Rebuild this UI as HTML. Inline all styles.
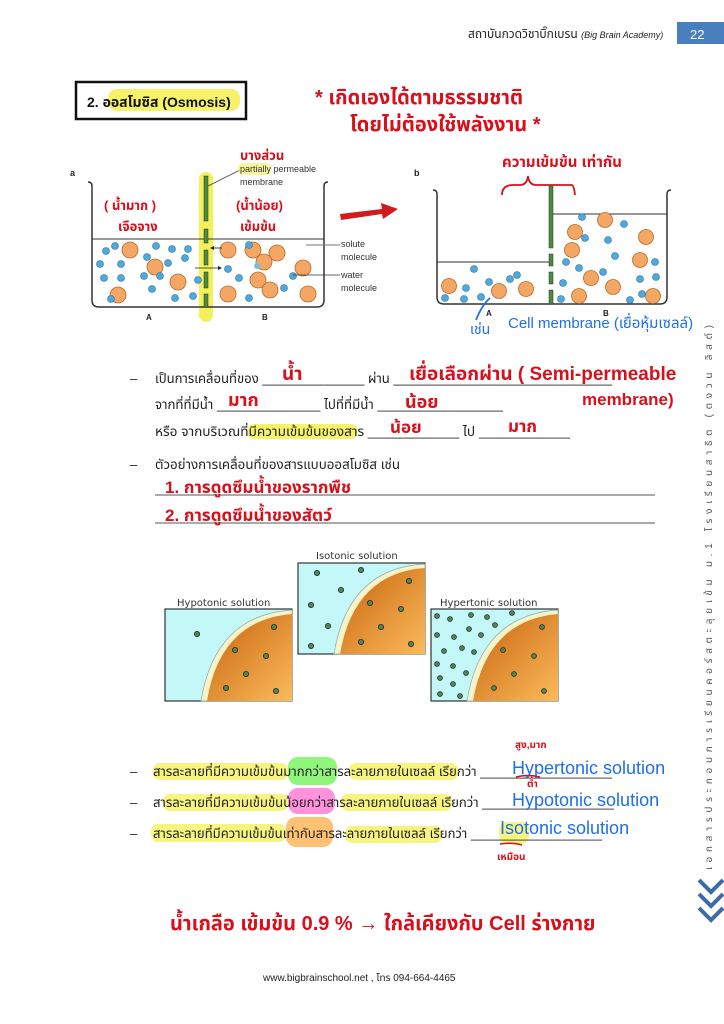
<!DOCTYPE html>
<html><head><meta charset="utf-8">
<style>
html,body{margin:0;padding:0;background:#fff;}
body{width:724px;height:1024px;position:relative;overflow:hidden;font-family:"Liberation Sans","DejaVu Sans",sans-serif;}
svg{position:absolute;left:0;top:0;}
.th{font-family:"Liberation Sans","Noto Sans Thai","Loma","Garuda","DejaVu Sans",sans-serif;}
.red{fill:#d8101c;font-family:"Liberation Sans","Noto Sans Thai","DejaVu Sans",sans-serif;font-weight:bold;}
.blue{fill:#1f6fe8;font-family:"Liberation Sans","Noto Sans Thai","DejaVu Sans",sans-serif;}
</style></head><body>
<svg width="724" height="1024" viewBox="0 0 724 1024" xmlns="http://www.w3.org/2000/svg">
<!-- header -->
<text x="468" y="38" font-size="12" class="th" fill="#222">สถาบันกวดวิชาบิ๊กเบรน <tspan font-style="italic" font-size="9">(Big Brain Academy)</tspan></text>
<rect x="677" y="22" width="47" height="22" fill="#4a7fbf"/>
<text x="690" y="39" font-size="13" fill="#fff">22</text>

<!-- title box -->
<rect x="76" y="82" width="170" height="37" fill="#fff" stroke="#111" stroke-width="2.5"/>
<rect x="108" y="89" width="132" height="22" rx="9" fill="#f6f36a"/>
<text x="87" y="107" font-size="14" font-weight="bold" class="th" fill="#111">2.  ออสโมซิส (Osmosis)</text>
<text x="315" y="104" font-size="20" class="red">* เกิดเองได้ตามธรรมชาติ</text>
<text x="350" y="131" font-size="20" class="red">โดยไม่ต้องใช้พลังงาน *</text>

<!-- beaker a -->
<text x="70" y="176" font-size="9" font-weight="bold" fill="#222">a</text>
<rect x="199" y="172" width="14" height="150" rx="7" fill="#f3f05a"/>
<path d="M88 182 Q92 182 92 186 L92 300 Q92 307 99 307 L317 307 Q324 307 324 300 L324 186 Q324 182 328 182" fill="none" stroke="#333" stroke-width="1.5"/>
<line x1="92" y1="239" x2="324" y2="239" stroke="#333" stroke-width="1"/>
<g fill="#4d8a3a" stroke="#234" stroke-width="0.5">
<rect x="204" y="176" width="4" height="45"/><rect x="204" y="229" width="4" height="14"/><rect x="204" y="250" width="4" height="15"/><rect x="204" y="272" width="4" height="16"/><rect x="204" y="294" width="4" height="13"/>
</g>
<line x1="208" y1="186" x2="240" y2="170" stroke="#444" stroke-width="0.8"/>
<rect x="238" y="163" width="33" height="12" rx="5" fill="#f3f05a" opacity="0.6"/>
<text x="240" y="172" font-size="9" fill="#333">partially permeable</text>
<text x="240" y="185" font-size="9" fill="#333">membrane</text>
<text x="240" y="160" font-size="13" class="red">บางส่วน</text>
<text x="104" y="210" font-size="13" class="red">( น้ำมาก )</text>
<text x="118" y="231" font-size="13" class="red">เจือจาง</text>
<text x="236" y="210" font-size="13" class="red">(น้ำน้อย)</text>
<text x="240" y="231" font-size="13" class="red">เข้มข้น</text>
<g fill="#f4a765" stroke="#b86a2a" stroke-width="0.8">
<circle cx="130" cy="250" r="8"/><circle cx="155" cy="267" r="8"/><circle cx="178" cy="282" r="8"/><circle cx="118" cy="295" r="8"/>
<circle cx="228" cy="250" r="8"/><circle cx="253" cy="250" r="8"/><circle cx="277" cy="253" r="8"/><circle cx="264" cy="262" r="8"/><circle cx="303" cy="268" r="8"/><circle cx="258" cy="280" r="8"/><circle cx="270" cy="290" r="8"/><circle cx="228" cy="294" r="8"/><circle cx="308" cy="294" r="8"/>
</g>
<g fill="#4ea9dc" stroke="#2a6d9a" stroke-width="0.6">
<circle cx="106" cy="251" r="3.5"/><circle cx="115" cy="246" r="3.5"/><circle cx="100" cy="264" r="3.5"/><circle cx="121" cy="264" r="3.5"/><circle cx="104" cy="278" r="3.5"/><circle cx="121" cy="278" r="3.5"/><circle cx="111" cy="299" r="3.5"/>
<circle cx="156" cy="246" r="3.5"/><circle cx="172" cy="249" r="3.5"/><circle cx="147" cy="257" r="3.5"/><circle cx="188" cy="249" r="3.5"/><circle cx="185" cy="258" r="3.5"/><circle cx="168" cy="263" r="3.5"/><circle cx="144" cy="276" r="3.5"/><circle cx="160" cy="276" r="3.5"/><circle cx="152" cy="289" r="3.5"/><circle cx="175" cy="298" r="3.5"/><circle cx="193" cy="296" r="3.5"/><circle cx="198" cy="280" r="3.5"/>
<circle cx="228" cy="269" r="3.5"/><circle cx="239" cy="278" r="3.5"/><circle cx="249" cy="245" r="3.5"/><circle cx="249" cy="298" r="3.5"/><circle cx="284" cy="288" r="3.5"/><circle cx="293" cy="276" r="3.5"/><circle cx="257" cy="266" r="3" fill="#6cc0ea" stroke="none"/>
</g>
<line x1="222" y1="248" x2="212" y2="248" stroke="#222" stroke-width="0.8"/><path d="M210 248 l4 -2 v4z" fill="#222"/>
<line x1="195" y1="268" x2="219" y2="268" stroke="#222" stroke-width="0.8"/><path d="M222 268 l-4 -2 v4z" fill="#222"/>
<line x1="306" y1="245" x2="340" y2="245" stroke="#777"/>
<line x1="293" y1="275" x2="340" y2="275" stroke="#333" stroke-width="0.8"/>
<text x="341" y="247" font-size="9" fill="#333">solute</text>
<text x="341" y="260" font-size="9" fill="#333">molecule</text>
<text x="341" y="278" font-size="9" fill="#333">water</text>
<text x="341" y="291" font-size="9" fill="#333">molecule</text>
<text x="146" y="320" font-size="8" font-weight="bold" fill="#222">A</text>
<text x="262" y="320" font-size="8" font-weight="bold" fill="#222">B</text>

<!-- arrow -->
<path d="M340 214 L382 209 L381 203 L398 209 L383 219 L382 214 L341 220Z" fill="#d01c1c"/>

<!-- beaker b -->
<text x="414" y="176" font-size="9" font-weight="bold" fill="#222">b</text>
<path d="M433 190 Q437 190 437 194 L437 297 Q437 304 444 304 L660 304 Q667 304 667 297 L667 194 Q667 190 671 190" fill="none" stroke="#333" stroke-width="1.5"/>
<line x1="437" y1="262" x2="551" y2="262" stroke="#333"/>
<line x1="553" y1="214" x2="667" y2="214" stroke="#333"/>
<g fill="#4d8a3a" stroke="#234" stroke-width="0.5">
<rect x="549" y="186" width="4" height="62"/><rect x="549" y="254" width="4" height="12"/><rect x="549" y="272" width="4" height="12"/><rect x="549" y="290" width="4" height="14"/>
</g>
<path d="M502 195 Q502 185 513 185 L520 185 Q527 185 528 176 Q529 185 536 185 L572 185 Q574 186 575 195" fill="none" stroke="#d8101c" stroke-width="1.8"/>
<text x="502" y="167" font-size="15" class="red">ความเข้มข้น เท่ากัน</text>
<g fill="#f4a765" stroke="#b86a2a" stroke-width="0.8">
<circle cx="449" cy="286" r="7.5"/><circle cx="499" cy="291" r="7.5"/><circle cx="526" cy="289" r="7.5"/>
<circle cx="575" cy="232" r="7.5"/><circle cx="605" cy="220" r="7.5"/><circle cx="646" cy="237" r="7.5"/><circle cx="572" cy="250" r="7.5"/><circle cx="640" cy="260" r="7.5"/><circle cx="591" cy="278" r="7.5"/><circle cx="613" cy="287" r="7.5"/><circle cx="579" cy="296" r="7.5"/><circle cx="653" cy="296" r="7.5"/>
</g>
<g fill="#4ea9dc" stroke="#2a6d9a" stroke-width="0.6">
<circle cx="474" cy="269" r="3.5"/><circle cx="466" cy="288" r="3.5"/><circle cx="445" cy="298" r="3.5"/><circle cx="464" cy="299" r="3.5"/><circle cx="481" cy="297" r="3.5"/><circle cx="489" cy="282" r="3.5"/><circle cx="510" cy="279" r="3.5"/><circle cx="517" cy="275" r="3.5"/>
<circle cx="582" cy="217" r="3.5"/><circle cx="624" cy="224" r="3.5"/><circle cx="585" cy="238" r="3.5"/><circle cx="608" cy="240" r="3.5"/><circle cx="566" cy="262" r="3.5"/><circle cx="615" cy="256" r="3.5"/><circle cx="655" cy="262" r="3.5"/><circle cx="579" cy="268" r="3.5"/><circle cx="603" cy="272" r="3.5"/><circle cx="563" cy="283" r="3.5"/><circle cx="640" cy="279" r="3.5"/><circle cx="656" cy="277" r="3.5"/><circle cx="642" cy="294" r="3.5"/><circle cx="561" cy="299" r="3.5"/><circle cx="630" cy="300" r="3.5"/>
</g>
<text x="486" y="316" font-size="8" font-weight="bold" fill="#222">A</text>
<text x="603" y="316" font-size="8" font-weight="bold" fill="#222">B</text>
<text x="470" y="334" font-size="14" class="blue">เช่น</text>
<text x="508" y="328" font-size="15" class="blue">Cell membrane (เยื่อหุ้มเซลล์)</text>
<path d="M476 320 Q482 305 490 298" fill="none" stroke="#1f6fe8" stroke-width="1.8"/>

<!-- fill-in lines -->
<rect x="248" y="424" width="109" height="15" rx="6" fill="#f6f36a"/>
<g font-size="13" class="th" fill="#222">
<text x="130" y="383">–</text>
<text x="155" y="383" textLength="457" lengthAdjust="spacingAndGlyphs">เป็นการเคลื่อนที่ของ ______________ ผ่าน ______________________________</text>
<text x="155" y="409" textLength="348" lengthAdjust="spacingAndGlyphs">จากที่ที่มีน้ำ ______________ ไปที่ที่มีน้ำ _________________</text>
<text x="155" y="436" textLength="415" lengthAdjust="spacingAndGlyphs">หรือ จากบริเวณที่มีความเข้มข้นของสาร ____________ ไป ____________</text>
<text x="130" y="469">–</text>
<text x="155" y="469" textLength="245" lengthAdjust="spacingAndGlyphs">ตัวอย่างการเคลื่อนที่ของสารแบบออสโมซิส เช่น</text>
</g>
<line x1="155" y1="495" x2="655" y2="495" stroke="#555" stroke-width="0.9"/>
<line x1="155" y1="523" x2="655" y2="523" stroke="#555" stroke-width="0.9"/>
<text x="282" y="380" font-size="19" class="red">น้ำ</text>
<text x="409" y="380" font-size="19" class="red">เยื่อเลือกผ่าน ( Semi-permeable</text>
<text x="582" y="405" font-size="17" class="red">membrane)</text>
<text x="228" y="406" font-size="18" class="red">มาก</text>
<text x="405" y="408" font-size="18" class="red">น้อย</text>
<text x="390" y="433" font-size="17" class="red">น้อย</text>
<text x="508" y="432" font-size="17" class="red">มาก</text>
<text x="165" y="493" font-size="17" class="red">1. การดูดซึมน้ำของรากพืช</text>
<text x="165" y="521" font-size="17" class="red">2. การดูดซึมน้ำของสัตว์</text>

<!-- tonic panels -->
<defs>
<linearGradient id="og" x1="0" y1="0" x2="1" y2="1"><stop offset="0" stop-color="#c8630e"/><stop offset="1" stop-color="#fbbb5a"/></linearGradient>
</defs>
<text x="177" y="606" font-size="10" fill="#333" font-family="DejaVu Sans, sans-serif">Hypotonic solution</text>
<text x="316" y="559" font-size="10" fill="#333" font-family="DejaVu Sans, sans-serif">Isotonic solution</text>
<text x="440" y="606" font-size="10" fill="#333" font-family="DejaVu Sans, sans-serif">Hypertonic solution</text>
<g stroke="#333" stroke-width="1.2">
<rect x="165" y="609" width="127" height="92" fill="#c4f7f8"/>
<rect x="298" y="563" width="127" height="91" fill="#c4f7f8"/>
<rect x="431" y="609" width="127" height="92" fill="#c4f7f8"/>
</g>
<path d="M201 701 Q215 615 292 610 L292 701Z" fill="#fbf3c8" stroke="#8aa" stroke-width="0.7"/>
<path d="M207 701 Q220 620 292 614 L292 701Z" fill="url(#og)"/>
<path d="M334 654 Q348 568 425 564 L425 654Z" fill="#fbf3c8" stroke="#8aa" stroke-width="0.7"/>
<path d="M340 654 Q354 573 425 568 L425 654Z" fill="url(#og)"/>
<path d="M467 701 Q481 615 558 610 L558 701Z" fill="#fbf3c8" stroke="#8aa" stroke-width="0.7"/>
<path d="M473 701 Q487 620 558 614 L558 701Z" fill="url(#og)"/>
<g fill="#4f8a4f" stroke="#223" stroke-width="0.8">
<circle cx="197" cy="634" r="2.6"/><circle cx="274" cy="627" r="2.6"/><circle cx="235" cy="650" r="2.6"/><circle cx="266" cy="656" r="2.6"/><circle cx="246" cy="674" r="2.6"/><circle cx="226" cy="688" r="2.6"/><circle cx="276" cy="691" r="2.6"/>
<circle cx="317" cy="573" r="2.6"/><circle cx="361" cy="570" r="2.6"/><circle cx="341" cy="590" r="2.6"/><circle cx="409" cy="581" r="2.6"/><circle cx="311" cy="605" r="2.6"/><circle cx="370" cy="603" r="2.6"/><circle cx="401" cy="609" r="2.6"/><circle cx="328" cy="626" r="2.6"/><circle cx="381" cy="627" r="2.6"/><circle cx="311" cy="646" r="2.6"/><circle cx="361" cy="642" r="2.6"/><circle cx="411" cy="644" r="2.6"/>
<circle cx="437" cy="616" r="2.4"/><circle cx="450" cy="619" r="2.4"/><circle cx="471" cy="615" r="2.4"/><circle cx="487" cy="617" r="2.4"/><circle cx="512" cy="613" r="2.4"/><circle cx="437" cy="635" r="2.4"/><circle cx="454" cy="637" r="2.4"/><circle cx="469" cy="629" r="2.4"/><circle cx="481" cy="635" r="2.4"/><circle cx="495" cy="625" r="2.4"/><circle cx="444" cy="651" r="2.4"/><circle cx="462" cy="648" r="2.4"/><circle cx="474" cy="652" r="2.4"/><circle cx="437" cy="664" r="2.4"/><circle cx="453" cy="666" r="2.4"/><circle cx="466" cy="673" r="2.4"/><circle cx="440" cy="678" r="2.4"/><circle cx="453" cy="684" r="2.4"/><circle cx="440" cy="694" r="2.4"/><circle cx="460" cy="696" r="2.4"/><circle cx="542" cy="627" r="2.4"/><circle cx="503" cy="650" r="2.4"/><circle cx="534" cy="656" r="2.4"/><circle cx="514" cy="674" r="2.4"/><circle cx="494" cy="688" r="2.4"/><circle cx="544" cy="691" r="2.4"/>
</g>

<!-- highlight rows -->
<g opacity="0.85">
<rect x="153" y="763" width="135" height="17" rx="7" fill="#f6f36a"/>
<rect x="288" y="757" width="49" height="28" rx="10" fill="#7df564"/>
<rect x="349" y="763" width="109" height="17" rx="7" fill="#f6f36a"/>
<rect x="163" y="794" width="125" height="17" rx="7" fill="#f6f36a"/>
<rect x="288" y="788" width="47" height="26" rx="10" fill="#ff7fd8"/>
<rect x="341" y="794" width="111" height="17" rx="7" fill="#f6f36a"/>
<rect x="151" y="824" width="135" height="18" rx="7" fill="#f6f36a"/>
<rect x="286" y="817" width="47" height="30" rx="10" fill="#ffb85c"/>
<rect x="345" y="826" width="97" height="17" rx="7" fill="#f6f36a"/>
<rect x="499" y="822" width="30" height="22" rx="8" fill="#f6f36a"/>
</g>
<g font-size="13" class="th" fill="#222">
<text x="130" y="776">–</text>
<text x="153" y="776" textLength="459" lengthAdjust="spacingAndGlyphs">สารละลายที่มีความเข้มข้นมากกว่าสารละลายภายในเซลล์ เรียกว่า __________________</text>
<text x="130" y="807">–</text>
<text x="153" y="807" textLength="461" lengthAdjust="spacingAndGlyphs">สารละลายที่มีความเข้มข้นน้อยกว่าสารละลายภายในเซลล์ เรียกว่า __________________</text>
<text x="130" y="838">–</text>
<text x="153" y="838" textLength="449" lengthAdjust="spacingAndGlyphs">สารละลายที่มีความเข้มข้นเท่ากับสารละลายภายในเซลล์ เรียกว่า __________________</text>
</g>
<text x="512" y="774" font-size="18" class="blue">Hypertonic solution</text>
<text x="512" y="806" font-size="18" class="blue">Hypotonic solution</text>
<text x="500" y="834" font-size="18" class="blue">Isotonic solution</text>
<text x="515" y="748" font-size="10" class="red">สูง,มาก</text>
<text x="527" y="787" font-size="10" class="red">ต่ำ</text>
<text x="497" y="860" font-size="10" class="red">เหมือน</text>
<path d="M516 777 Q528 774 540 777" stroke="#d8101c" stroke-width="1.5" fill="none"/>
<path d="M500 844 Q512 842 522 845" stroke="#d8101c" stroke-width="1.5" fill="none"/>

<text x="170" y="930" font-size="20" class="red">น้ำเกลือ  เข้มข้น 0.9 %  → ใกล้เคียงกับ Cell ร่างกาย</text>
<text x="263" y="981" font-size="10" class="th" fill="#222">www.bigbrainschool.net , โทร 094-664-4465</text>

<!-- right side vertical -->
<text transform="translate(712,870) rotate(-90)" font-size="10" class="th" fill="#555" textLength="545" lengthAdjust="spacing">เอกสารประกอบการเรียนคอร์สตะลุยเข้ม ม.1 โรงเรียนสาธิต (ตงวน ลิสต์)</text>
<g fill="none" stroke="#3d6aa8" stroke-width="4">
<path d="M699 880 L711 892 L723 880"/>
<path d="M699 894 L711 906 L723 894"/>
<path d="M699 908 L711 920 L723 908"/>
</g>
</svg>
</body></html>
